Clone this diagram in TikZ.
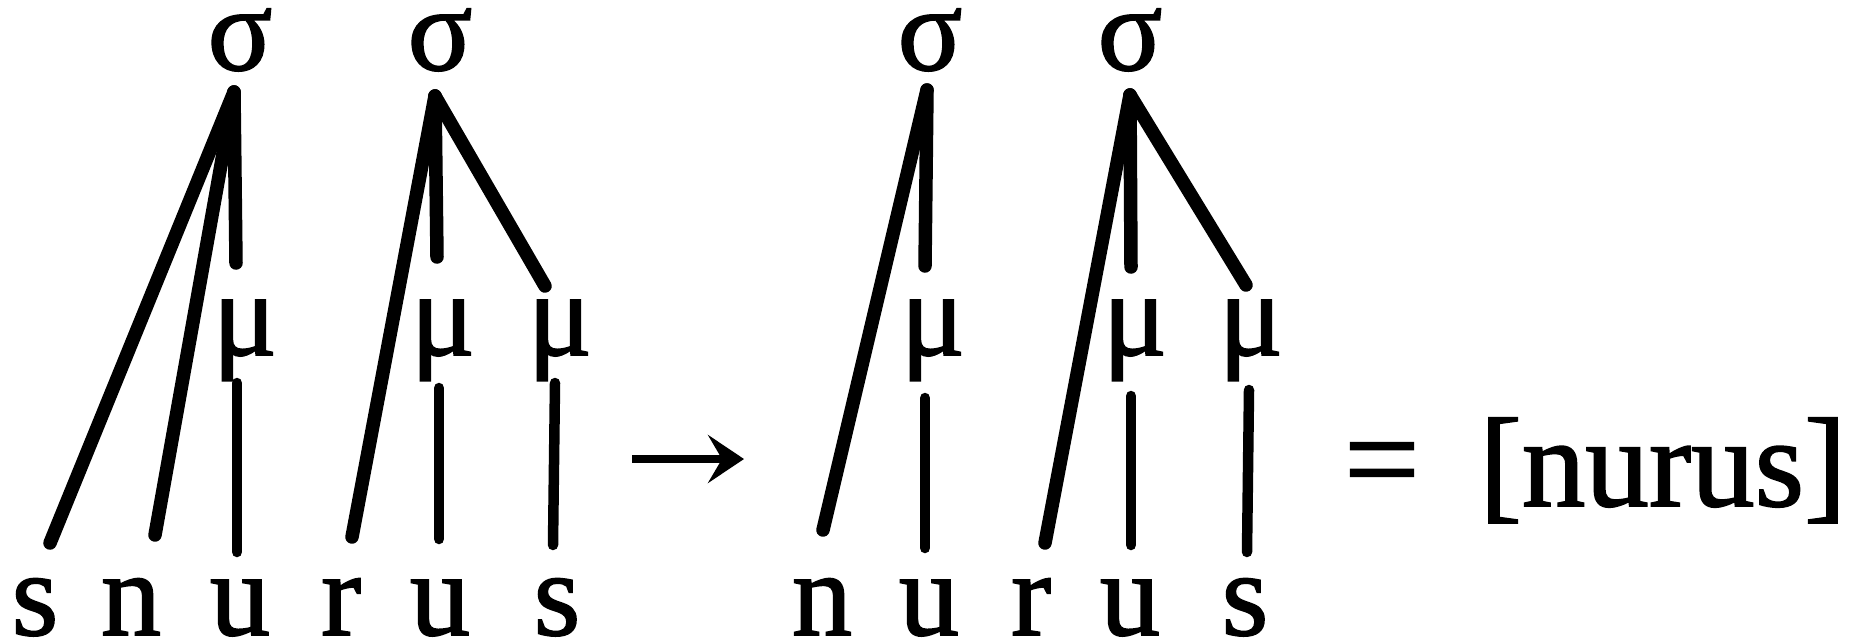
\documentclass[tikz,border=0pt]{standalone}
\usepackage{fontspec}
\setmainfont{Liberation Serif}
\newfontfamily\tms[FakeBold=1.4]{Liberation Serif}
\usetikzlibrary{arrows.meta}
\begin{document}
\begin{tikzpicture}[x=1pt,y=-1pt,
  lbl/.style={anchor=base,inner sep=0pt,text height=0.46em,text depth=0pt,font=\tms\fontsize{120}{120}\selectfont},
  big/.style={anchor=base,inner sep=0pt,text height=0.7em,text depth=0.15em,font=\tms\fontsize{127}{127}\selectfont},
  branch/.style={line width=13.5pt,line cap=round,line join=round},
  stem/.style={line width=10.5pt,line cap=round,line join=round},
  arr/.style={line width=8pt,-{Stealth[length=36pt,width=48pt,inset=14pt]}}]
\useasboundingbox (0,0) rectangle (1863,643);
% ---- left representation ----
\node[lbl] (sg1) at (240,70) {σ};
\node[lbl] (sg2) at (440,70) {σ};
\node[lbl] (mu1) at (245,355) {μ};
\node[lbl] (mu2) at (443,355) {μ};
\node[lbl] (mu3) at (560,355) {μ};
\node[lbl] (s1) at (35,635) {s};
\node[lbl] (n1) at (131,635) {n};
\node[lbl] (u1) at (240,635) {u};
\node[lbl] (r1) at (341,635) {r};
\node[lbl] (u2) at (440,635) {u};
\node[lbl] (s2) at (557,635) {s};
% ---- right representation ----
\node[lbl] (sg3) at (930,70) {σ};
\node[lbl] (sg4) at (1130,70) {σ};
\node[lbl] (mu4) at (933,355) {μ};
\node[lbl] (mu5) at (1135,355) {μ};
\node[lbl] (mu6) at (1251,355) {μ};
\node[lbl] (n2) at (822,635) {n};
\node[lbl] (u3) at (929,635) {u};
\node[lbl] (r2) at (1031,635) {r};
\node[lbl] (u4) at (1130,635) {u};
\node[lbl] (s3) at (1245,635) {s};
% ---- equals and result ----
\node[big,font=\tms\fontsize{134}{134}\selectfont] (eq) at (1382,504) {=};
\node[big] (res) at (1663,506) {[nurus]};
% ---- connector end points ----
\coordinate (a1) at (234,92);
\coordinate (a2) at (435,96);
\coordinate (a3) at (927,90);
\coordinate (a4) at (1130,95);
\coordinate (s1t) at (50,543);
\coordinate (n1t) at (155,535);
\coordinate (mu1t) at (236,263);
\coordinate (mu1b) at (237,383);
\coordinate (u1t) at (237,552);
\coordinate (r1t) at (352,537);
\coordinate (mu2t) at (437,257);
\coordinate (mu3t) at (545,286);
\coordinate (mu2b) at (439,388);
\coordinate (u2t) at (439,539);
\coordinate (mu3b) at (555,383);
\coordinate (s2t) at (553,545);
\coordinate (n2t) at (823,530);
\coordinate (mu4t) at (925,266);
\coordinate (mu4b) at (925,398);
\coordinate (u3t) at (925,548);
\coordinate (r2t) at (1045,543);
\coordinate (mu5t) at (1131,267);
\coordinate (mu6t) at (1246,285);
\coordinate (mu5b) at (1131,396);
\coordinate (u4t) at (1131,545);
\coordinate (mu6b) at (1249,390);
\coordinate (s3t) at (1247,552);
\coordinate (arrS) at (632,459);
\coordinate (arrE) at (744,459);
% ---- connectors ----
\draw[branch] (a1) -- (s1t);
\draw[branch] (a1) -- (n1t);
\draw[branch] (a1) -- (mu1t);
\draw[stem] (mu1b) -- (u1t);
\draw[branch] (a2) -- (r1t);
\draw[branch] (a2) -- (mu2t);
\draw[branch] (a2) -- (mu3t);
\draw[stem] (mu2b) -- (u2t);
\draw[stem] (mu3b) -- (s2t);
\draw[arr] (arrS) -- (arrE);
\draw[branch] (a3) -- (n2t);
\draw[branch] (a3) -- (mu4t);
\draw[stem] (mu4b) -- (u3t);
\draw[branch] (a4) -- (r2t);
\draw[branch] (a4) -- (mu5t);
\draw[branch] (a4) -- (mu6t);
\draw[stem] (mu5b) -- (u4t);
\draw[stem] (mu6b) -- (s3t);
\end{tikzpicture}
\end{document}
